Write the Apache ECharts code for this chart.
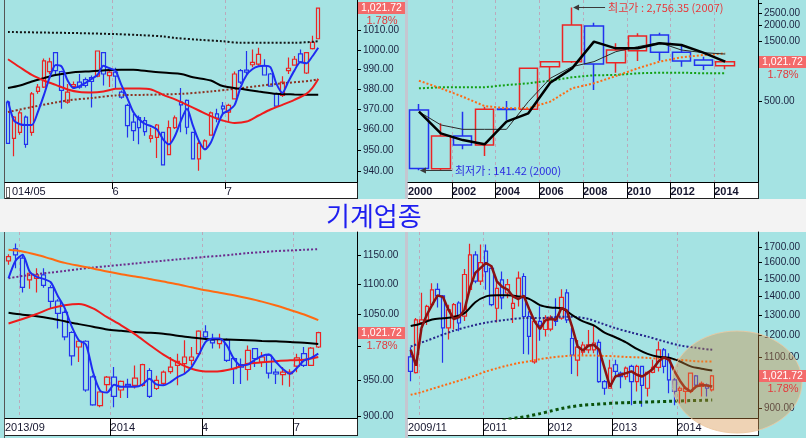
<!DOCTYPE html>
<html>
<head>
<meta charset="utf-8">
<title>기계업종</title>
<script src="https://cdn.jsdelivr.net/npm/echarts@6.0.0/dist/echarts.min.js"></script>
<style>
  html, body { margin:0; padding:0; background:#a5e3e3; }
  #wrap { position:relative; width:806px; height:438px; overflow:hidden; background:#a5e3e3; }
  .deco { position:absolute; box-sizing:border-box; }
  #chart { position:absolute; left:0; top:0; width:806px; height:438px; }
</style>
</head>
<body>
<div id="wrap">
  <div class="deco" style="left:0;top:199px;width:806px;height:33px;background:#f3f3f3;"></div>
  <div class="deco" style="left:405px;top:0;width:3px;height:199px;background:#c5c6d0;"></div>
  <div class="deco" style="left:405px;top:232px;width:3px;height:206px;background:#c5c6d0;"></div>
  <div class="deco" style="left:4px;top:0;width:1px;height:199px;background:#555;"></div>
  <div class="deco" style="left:4px;top:232px;width:1px;height:206px;background:#555;"></div>
  <div class="deco" style="left:5px;top:182px;width:353px;height:17px;background:#fff;border-right:1px solid #222;border-bottom:1px solid #222;"></div>
  <div class="deco" style="left:408px;top:182px;width:351px;height:17px;background:#fff;border-right:1px solid #222;border-bottom:1px solid #222;"></div>
  <div class="deco" style="left:5px;top:418px;width:353px;height:18px;background:#fff;border-right:1px solid #222;border-bottom:1px solid #222;"></div>
  <div class="deco" style="left:408px;top:418px;width:351px;height:18px;background:#fff;border-right:1px solid #222;border-bottom:1px solid #222;"></div>
  <div class="deco" style="left:6px;top:187px;width:4px;height:11px;border:1px solid #666;background:#fff;"></div>
  <div id="chart"></div>
</div>
<script>
// ---------------- common values ----------------
const TITLE = '기계업종';
const LAST_PRICE = 1021.72;
const PRICE_TEXT = '1,021.72';
const CHANGE_TEXT = '1.78%';

// ---------------- panel 1 : daily (2014/05 - 2014/07) ----------------
// [open, close, low, high]
const dailyOHLC = [
  [973.7,953.3,953,974.5],[955.7,966.2,947,966.7],[958.7,968.3,957.5,969.5],[966.2,952.8,951.2,967],
  [958.7,977.8,957,978.7],[979,981.2,977.8,982.8],[981.2,994.5,980.7,995.7],[989,994,987.8,996],
  [998.7,989.5,987,999],[989,979.5,970.3,989.5],[973.7,978.7,972.8,982.8],[981.5,982.5,981,984],
  [983.7,981.2,980.3,987.8],[985,982,981,986],[986,984,971,987],[986.7,999.5,986.2,999.5],
  [998.7,987.8,982,999],[987,988.7,981.2,989.5],[988.7,986.7,980.3,991],[978.7,976.2,975.3,979.5],
  [972,962,956.2,972.8],[963.7,959.5,954.5,967.8],[966,961,952.8,967],[964.5,959,957,966.2],
  [955.7,957,953.7,961],[956.2,962.3,946.2,962.8],[958.7,942.8,942.8,959],[947.8,961,947.8,964.5],
  [961,965.8,960.3,967],[973.7,972.3,958.7,980.7],[974.5,961.2,957.8,975],[958.7,945.7,945.7,959],
  [945.7,953.3,940,954.5],[950.7,954.5,950.3,955.3],[957.3,968.3,957,969],[967.8,965.7,963.7,970.3],
  [971.7,970.3,967.8,973.7],[968.7,972,963.7,972.8],[975.3,987.8,975,989],[989.5,983.7,982.8,990.3],
  [989.8,988.7,987.8,999.5],[992.5,993.7,991.2,1000.3],[992.8,997.8,992,1001.2],[992,987.3,987,995.3],
  [987.8,981.7,981.7,988.3],[977.8,971.7,971.7,978.3],[977,983.7,976.2,986.7],[989.5,990.7,987.8,996.2],
  [992.3,995.3,992,997],[998,994,993.7,1000.3],[988.3,998.7,987.8,999],[1000.7,1004,1000.3,1007.3],
  [1005.8,1021.72,1005.8,1021.72]
];
const dailyMA5 = [974.2,964.5,962.7,962.3,962.3,968.7,977,986.2,992.3,991.5,984.5,980.7,981.7,983.3,985.3,987.3,
  992,990.7,989.5,982.3,975.7,968.7,965,962.8,961.7,960,955.3,952.8,957,964.5,970.3,962,954.5,950.3,953.7,961.2,
  967.8,969.5,972.3,981.2,987.3,990.3,991.7,992,991.2,982.8,978.3,984,989.5,993.7,993.2,996.7,1001.2];
const dailyMA20 = [[0,995.3],[2,991.2],[4,987.3],[6,984.5],[8,982.3],[10,980],[12,978.7],[14,978.5],[16,979],
  [18,980.3],[20,980.5],[22,980.5],[24,980],[26,977.3],[28,975],[30,972.3],[32,969.5],[34,966.7],[36,964.5],
  [38,963.3],[40,964],[42,967],[44,970],[46,972.3],[48,974.8],[50,977.8],[51,980.7],[52,985.3]];
const dailyMA60 = [[0,980.7],[2,982],[4,984],[6,985.7],[8,987.3],[11,988.7],[14,989.2],[17,989.8],[19,990],
  [21,990],[24,989],[27,988.3],[29,987.8],[31,986.2],[34,984.5],[36,981.7],[39,980.3],[42,979],[45,977.8],
  [48,977.5],[52,977.3]];
const dailyMA120 = [[0,1009.3],[6,1009],[12,1008.7],[18,1008.2],[22,1007.7],[26,1007],[28,1006.2],[32,1005.3],
  [36,1004.5],[39,1003.7],[42,1003.7],[48,1003.7],[52,1004.5]];
const dailyMA240 = [[0,968.7],[4,971.2],[10,974.5],[14,975.7],[18,977],[23,977.3],[29,977.8],[34,979],
  [39,980.7],[45,982.8],[51,984.5],[52,985.3]];
const dailyYRange = [934.6, 1025.98];
const dailyYTicks = [940,950,960,970,980,990,1000,1010,1020];
const dailyYLabels = [940,950,960,970,980,990,1000,1010];
const dailyXLabelPos = [0,18,37];
const dailyXLabelText = ['014/05','6','7'];
const dailyXTickPos = [18,37];
const dailyGridPos = [18,37];

// ---------------- panel 2 : yearly (2000 - 2014), log scale ----------------
const yearNames = ['2000','2001','2002','2003','2004','2005','2006','2007','2008','2009','2010','2011','2012','2013','2014'];
const yearOHLC = [
  [424,146,141.42,473],[145,264,142,333],[264,224,207,411],[224,430,183,451],[432,428,354,500],
  [430,907,424,912],[935,1025,711,1030],[1025,2000,1000,2756.35],[1964,982,611,2086],[1006,1267,838,1432],
  [1252,1636,1038,1718],[1666,1215,1044,1740],[1215,1038,935,1414],[1056,958,880,1122],[952,1021.72,891,1056]
];
const yearMA3 = [411,277,245,227,343,399,698,907,1476,1307,1307,1432,1389,1208,1025];
const yearMA5 = [411,323,298,298,298,494,756,935,1025,1229,1347,1449,1267,1208,1178];
const yearMA10 = [724,630,541,456,438,438,494,630,690,789,907,1025,1109,1157,1193];
const yearMA20 = [630,642,642,642,669,690,724,770,800,803,829,838,838,829,829];
const yearYRange = [114, 3157];
const yearYTicks = [500,1000,1500,2000,2500,3000];
const yearYLabels = [500,1500,2000,2500];
const yearXLabelPos = [0,2,4,6,8,10,12,14];
const yearXLabelText = ['2000','2002','2004','2006','2008','2010','2012','2014'];
const yearXTickPos = [2,4,6,8,10,12,14];
const yearGridPos = [2,4,6,8,10,12,14];

// ---------------- panel 3 : weekly (2013/09 - 2014/07), log scale ----------------
const weekOHLC = [
  [1139.5,1147,1132.6,1151],[1160.5,1150,1126.8,1170],[1144.2,1094.5,1086,1149],[1107,1118.2,1092,1123.9],
  [1109.7,1115.4,1086,1126.8],[1115.4,1097.9,1093.9,1126.8],[1093.9,1071.5,1060,1097.9],[1072,1051.9,1028,1075],
  [1053.7,1015.1,1009.9,1057],[1021.9,986.1,972,1024],[999.6,1008.4,977,1009.9],[1008.4,936.3,934,1009.9],
  [955.3,915.3,914,957.6],[914.4,933.5,912,934.5],[943.9,954.8,934.5,956.5],[954.8,927.4,912,969.6],
  [936.3,948.6,925,950],[944.4,942.4,925,952.6],[942.9,953.3,938.5,972],[942.9,973.1,940.8,974.6],
  [964.5,927.4,925,967.7],[938.5,950,936.3,957],[945.9,962.1,943.4,964.5],[963,969.6,959.8,984.5],
  [972,978,943,989.5],[974.6,984.5,959.8,1009.9],[979.4,984.5,972,999.6],[989.5,1024,987.1,1025.5],
  [1023,1015.1,1009.9,1033.3],[1009.9,1005.8,997.2,1020],[1004.8,1012.6,997.2,1020],[1009.9,979.4,977,1012.6],
  [982.1,967.2,945,984.5],[973.1,969.6,945,982.1],[966,994.6,950,1002],[997.2,982.1,969.6,998.2],
  [977,984.5,969.6,992],[987.1,960.7,952.8,989.5],[962.1,959.4,945,967.2],[958.5,962.1,943,969.6],
  [959.8,962.1,940.8,966.3],[971,983.1,962.1,989.5],[989.5,972,969.6,999.6],[972,998,971,999.6],
  [999.6,1021.72,998,1023]
];
const weekMA5 = [1109.7,1139.5,1150,1121.1,1112,1108.6,1103,1080.2,1060,1030.7,1009.9,1003.3,962.1,935.6,932.8,
  943.9,940.8,940.8,940.8,943.9,952.4,944.4,943,947.6,954.8,959.8,969.6,987.1,1007.5,1012.6,1012.6,1002.1,982.1,
  972,973.1,980.4,986.1,988.1,977,966.3,959.8,968.5,979.4,983.1,989.5];
const weekMA20 = [[0,1036],[2,1043],[4,1051],[6,1060],[8,1065],[10,1067],[12,1060],[14,1046],[16,1033],[18,1019],
  [20,1003],[22,988],[24,976],[26,967],[28,963],[30,963.5],[32,967.5],[34,974.6],[36,976.5],[38,978.2],[40,979.6],
  [42,980.4],[44,984.5]];
const weekMA60 = [[0,1053],[2,1050],[4,1047.5],[6,1044],[8,1039.5],[10,1035],[12,1031],[14,1026.5],[16,1024.5],
  [18,1022.5],[20,1021.5],[22,1020],[24,1017],[26,1014],[28,1012],[30,1011.3],[32,1010.8],[34,1009.9],[36,1008.9],
  [38,1008.2],[40,1007.4],[42,1006],[44,1004.3]];
const weekMA120 = [[0,1158.8],[2,1155.9],[4,1150],[6,1143],[8,1136],[10,1131],[12,1126.5],[14,1121.1],[16,1116.5],
  [18,1112.6],[20,1108.6],[22,1104.1],[24,1099.6],[26,1094.5],[28,1089.6],[30,1085.6],[32,1081.3],[34,1076.4],
  [36,1071],[38,1064.6],[40,1057.5],[42,1050.3],[44,1041.3]];
const weekMA240 = [[0,1109.7],[2,1113.6],[4,1116.5],[6,1119.4],[8,1122.2],[10,1125.1],[12,1128],[14,1130.3],
  [16,1132.6],[18,1135],[20,1137.4],[22,1139.7],[24,1142],[26,1144.2],[28,1146.5],[30,1148.2],[32,1150.6],
  [34,1153],[36,1154.7],[38,1156.5],[40,1157.6],[42,1158.8],[44,1160]];
const weekYRange = [897.3, 1190.6];
const weekYTicks = [900,950,1000,1050,1100,1150];
const weekYLabels = [900,950,1050,1100,1150];
const weekXLabelPos = [0,15,28,41];
const weekXLabelText = ['2013/09','2014','4','7'];
const weekXTickPos = [15,28,41];
const weekGridPos = [2,15,28,41];

// ---------------- panel 4 : monthly (2009/11 - 2014/07), log scale ----------------
const monthOHLC = [
  [1102,1040,1000,1145],[1035,1276,1032,1285],[1262,1276,1250,1420],[1276,1346,1250,1355],[1355,1437,1346,1475],
  [1440,1403,1340,1475],[1403,1236,1076,1408],[1236,1328,1180,1355],[1295,1355,1228,1364],[1364,1260,1220,1373],
  [1295,1527,1270,1560],[1440,1650,1420,1725],[1650,1488,1475,1675],[1488,1600,1465,1720],[1675,1545,1437,1720],
  [1565,1355,1346,1585],[1336,1445,1262,1495],[1495,1392,1330,1545],[1419,1467,1390,1500],[1335,1362,1260,1400],
  [1390,1505,1345,1545],[1515,1293,1115,1535],[1293,1195,1112,1320],[1080,1268,1072,1285],[1268,1248,1175,1346],
  [1228,1285,1195,1300],[1230,1288,1220,1300],[1288,1268,1245,1390],[1285,1395,1276,1440],[1420,1276,1260,1440],
  [1185,1110,1030,1236],[1088,1145,1020,1178],[1123,1155,1110,1170],[1133,1156,1118,1226],[1133,1164,1118,1252],
  [1167,999,995,1180],[999,973,948,1005],[973,1054,972,1089],[1068,1040,1019,1089],[1033,1019,973,1040],
  [1019,1054,1006,1061],[1061,999,910,1068],[999,1061,961,1068],[1061,984,904,1064],[973,1036,942,1040],
  [1036,1057,1033,1089],[1057,1133,1040,1171],[1133,1061,1033,1141],[1096,1006,954,1118],[1006,961,910,1013],
  [965,973,916,980],[961,973,916,980],[961,1033,954,1036],[1022,985,973,1026],[980,992,942,999],
  [985,973,942,992],[967,1021.72,961,1026]
];
const monthMA3 = [1133.3,1063.9,1235,1301.8,1355.4,1405.8,1396.4,1328.6,1280,1290,1328.6,1448,1536.7,1567.4,1598,
  1577.6,1486.5,1453.8,1438.5,1400,1385.7,1403.8,1332,1268.3,1230,1273.3,1280,1276.7,1337.5,1325,1240,1148.5,
  1130.3,1151.5,1156,1133.3,1054.2,979.7,1019.4,1026.4,1033.3,1040.3,1026.4,1019.4,1033.3,1051.4,1082,1100,
  1088.9,1040.3,1002.8,973.4,960.8,979.7,986.1,983.5,979.7];
const monthMA12 = [[0,1245],[2,1258],[4,1278],[6,1284],[8,1290],[10,1310],[12,1368],[14,1400],[16,1406],[18,1406],
  [20,1400],[22,1386.8],[24,1352.8],[26,1340],[28,1336],[30,1300],[32,1268],[34,1248.4],[36,1212.9],[38,1191],
  [40,1167],[42,1137],[44,1115],[46,1102],[48,1098.6],[50,1082],[52,1061],[54,1051.4],[56,1044.4]];
const monthMA24 = [[0,1148],[3,1175],[5,1194],[8,1222],[11,1244],[14,1262],[18,1277],[21,1285],[25,1286],[28,1292],
  [31,1290],[33,1280],[35,1262],[38,1235],[41,1213],[44,1194],[47,1172],[50,1153],[53,1142],[56,1133]];
const monthMA36 = [[0,948],[2,958.2],[4,970.9],[6,983.5],[8,996.2],[10,1009.7],[12,1024],[14,1040],[16,1053],
  [18,1065],[20,1075],[22,1083],[24,1092],[26,1099],[28,1104],[30,1107.5],[32,1107.5],[34,1107.5],[36,1106],
  [38,1104.5],[40,1101.5],[42,1100],[44,1097.2],[46,1094.4],[48,1091.7],[50,1088.9],[52,1084.7],[54,1081.9],[56,1081.9]];
const monthMA60 = [[16,852],[18,860],[20,866],[22,872],[24,880],[26,889],[28,898],[30,905],[32,910],[34,912.6],
  [36,915.2],[38,917.7],[40,919],[42,920.3],[44,921.5],[46,922.8],[48,924],[50,925.3],[52,926.6],[54,927.5],[56,928.5]];
const monthYRange = [864.9, 1807];
const monthYTicks = [900,1000,1100,1200,1300,1400,1500,1600,1700];
const monthYLabels = [900,1100,1200,1300,1400,1500,1600,1700];
const monthXLabelPos = [0,14,26,38,50];
const monthXLabelText = ['2009/11','2011','2012','2013','2014'];
const monthXTickPos = [14,26,38,50];
const monthGridPos = [2,14,26,38,50];

// ---------------- build ----------------
const L = v => Math.log10(v);
const norm = d => (typeof d[0] === 'number') ? d.map((v, i) => [i, v]) : d;

const panels = [
  { ohlc: dailyOHLC, slots: 59, yRange: dailyYRange, yTicks: dailyYTicks, yLabels: dailyYLabels,
    xLabelPos: dailyXLabelPos, xLabelText: dailyXLabelText, xTickPos: dailyXTickPos, gridPos: dailyGridPos,
    lines: [
      { data: dailyMA240, color: '#8c3322', width: 2, dash: [2, 2], smooth: 0.3 },
      { data: dailyMA120, color: '#141414', width: 2, dash: [2, 2], smooth: 0.3 },
      { data: dailyMA60, color: '#000000', width: 2, smooth: 0.3 },
      { data: dailyMA20, color: '#ee1c1c', width: 2, smooth: 0.3 },
      { data: dailyMA5, color: '#1e2cf2', width: 2, smooth: 0.25 }
    ] },
  { ohlc: yearOHLC, slots: 16, yRange: yearYRange, yTicks: yearYTicks, yLabels: yearYLabels,
    xLabelPos: yearXLabelPos, xLabelText: yearXLabelText, xTickPos: yearXTickPos, gridPos: yearGridPos,
    lines: [
      { data: yearMA20, color: '#14a014', width: 2, dash: [2, 2] },
      { data: yearMA10, color: '#ff6a12', width: 2, dash: [2, 2] },
      { data: yearMA5, color: '#2a2a2a', width: 1 },
      { data: yearMA3, color: '#000000', width: 2.5 }
    ] },
  { ohlc: weekOHLC, slots: 50, yRange: weekYRange, yTicks: weekYTicks, yLabels: weekYLabels,
    xLabelPos: weekXLabelPos, xLabelText: weekXLabelText, xTickPos: weekXTickPos, gridPos: weekGridPos,
    lines: [
      { data: weekMA240, color: '#6c2b8c', width: 2, dash: [2, 2], smooth: 0.3 },
      { data: weekMA120, color: '#ff6a12', width: 2, smooth: 0.3 },
      { data: weekMA60, color: '#000000', width: 2, smooth: 0.3 },
      { data: weekMA20, color: '#ee1c1c', width: 2, smooth: 0.3 },
      { data: weekMA5, color: '#1e2cf2', width: 2, smooth: 0.25 }
    ] },
  { ohlc: monthOHLC, slots: 65, yRange: monthYRange, yTicks: monthYTicks, yLabels: monthYLabels,
    xLabelPos: monthXLabelPos, xLabelText: monthXLabelText, xTickPos: monthXTickPos, gridPos: monthGridPos,
    lines: [
      { data: monthMA60, color: '#0b520b', width: 3, dash: [3, 3], smooth: 0.3 },
      { data: monthMA36, color: '#ff6a12', width: 2, dash: [2, 2], smooth: 0.3 },
      { data: monthMA24, color: '#26268c', width: 2, dash: [2, 2], smooth: 0.3 },
      { data: monthMA12, color: '#000000', width: 2, smooth: 0.3 },
      { data: monthMA3, color: '#8a1212', width: 2.5 }
    ] }
];

const layout = [
  { left: 5,   top: 0,   width: 352, height: 182, barWidth: 4,  border: 1.2, tickLen: 7,  bold: false, labelPad: 7 },
  { left: 408, top: 0,   width: 350, height: 182, barWidth: 19, border: 1.5, tickLen: 16, bold: true,  labelPad: 0 },
  { left: 5,   top: 232, width: 352, height: 186, barWidth: 5,  border: 1.2, tickLen: 18, bold: false, labelPad: 0 },
  { left: 408, top: 232, width: 350, height: 186, barWidth: 4,  border: 1.2, tickLen: 18, bold: false, labelPad: 0 }
];

const FONT = 'Liberation Sans';
const grid = [], xAxis = [], yAxis = [], series = [];

panels.forEach((p, i) => {
  const g = layout[i];
  grid.push({ left: g.left, top: g.top, width: g.width, height: g.height, show: false,
    containLabel: false, outerBoundsMode: 'none' });
  const cats = Array.from({ length: p.slots }, (_, k) => String(k));
  xAxis.push({ type: 'category', gridIndex: i, data: cats, position: 'top', boundaryGap: true,
    axisLine: { show: false }, axisTick: { show: false }, axisLabel: { show: false },
    splitLine: { show: true, interval: (idx) => p.gridPos.indexOf(idx) >= 0,
      lineStyle: { color: '#bba9bb', type: [3, 3], width: 1 } } });
  yAxis.push({ type: 'value', gridIndex: i, position: 'right', min: L(p.yRange[0]), max: L(p.yRange[1]),
    axisLine: { show: true, onZero: false, lineStyle: { color: '#000', width: 1 } },
    axisTick: { show: true, inside: false, length: 4, customValues: p.yTicks.map(L), lineStyle: { color: '#000' } },
    axisLabel: { show: true, customValues: p.yLabels.map(L), margin: 6, color: '#1b2240', fontSize: 10,
      fontFamily: FONT, formatter: v => Math.pow(10, v).toFixed(2) },
    splitLine: { show: false } });
});
panels.forEach((p, i) => {
  const g = layout[i];
  xAxis.push({ type: 'value', gridIndex: i, position: 'bottom', min: 0, max: p.slots,
    axisLine: { show: true, onZero: false, lineStyle: { color: '#000', width: 1 } },
    axisTick: { show: true, inside: false, length: g.tickLen, customValues: p.xTickPos, lineStyle: { color: '#000' } },
    axisLabel: { show: true, customValues: p.xLabelPos, align: 'left', margin: 4, color: '#15152e', fontSize: 11,
      fontWeight: g.bold ? 'bold' : 'normal', fontFamily: FONT, showMinLabel: true, showMaxLabel: true,
      formatter: v => {
        const k = p.xLabelPos.indexOf(v);
        if (k < 0) return '';
        return (k === 0 && g.labelPad) ? '{pad|' + p.xLabelText[k] + '}' : p.xLabelText[k];
      },
      rich: { pad: { padding: [0, 0, 0, g.labelPad], fontSize: 11, color: '#15152e', fontFamily: FONT } } },
    splitLine: { show: false } });
});

panels.forEach((p, i) => {
  const g = layout[i];
  series.push({ type: 'candlestick', xAxisIndex: i, yAxisIndex: i, barWidth: g.barWidth, z: 2, silent: true,
    data: p.ohlc.map(d => d.map(L)),
    itemStyle: { color: 'rgba(0,0,0,0)', color0: 'rgba(0,0,0,0)', borderColor: '#ec2424',
      borderColor0: '#2232ee', borderWidth: g.border } });
  p.lines.forEach((ln, k) => {
    series.push({ type: 'line', xAxisIndex: i, yAxisIndex: i, z: 3 + k, silent: true, clip: true,
      symbol: 'none', showSymbol: false, smooth: ln.smooth || false,
      data: norm(ln.data).map(q => [q[0], L(q[1])]),
      lineStyle: { color: ln.color, width: ln.width, type: ln.dash || 'solid', cap: 'butt' } });
  });
});

const chart = echarts.init(document.getElementById('chart'), null, { renderer: 'canvas', width: 806, height: 438 });
chart.setOption({
  animation: false,
  backgroundColor: 'transparent',
  textStyle: { fontFamily: FONT },
  title: { text: TITLE, left: 326, top: 203, padding: 0,
    textStyle: { color: '#1d1df0', fontSize: 26, fontWeight: 'normal', fontFamily: 'Noto Sans CJK KR' } },
  grid, xAxis, yAxis, series
});

// ---------------- overlays positioned through the chart's own scales ----------------
const T = (s, extra) => Object.assign({ text: s, align: 'center', verticalAlign: 'middle',
  textAlign: 'center', textVerticalAlign: 'middle' }, extra);
const gfx = [];

// highlight circle on the monthly panel (drawn annotation)
gfx.push({ type: 'ellipse', shape: { cx: 737, cy: 382, rx: 65, ry: 51 }, z: 150, silent: true,
  style: { fill: 'rgba(214,140,60,0.38)', stroke: 'rgba(236,200,160,0.85)', lineWidth: 1 } });

panels.forEach((p, i) => {
  const g = layout[i];
  const ax = g.left + g.width;
  const y = Math.round(chart.convertToPixel({ yAxisIndex: i }, L(LAST_PRICE)));
  gfx.push({ type: 'rect', shape: { x: ax + 1, y: y - 6, width: 47, height: 12 }, z: 200, silent: true,
    style: { fill: '#f36a6a' } });
  gfx.push({ type: 'text', x: ax + 24.5, y: y + 0.5, z: 201, silent: true,
    style: T(PRICE_TEXT, { fill: '#ffffff', font: '10.5px "Liberation Sans"' }) });
  gfx.push({ type: 'text', x: ax + 25, y: y + 13, z: 201, silent: true,
    style: T(CHANGE_TEXT, { fill: '#e4393b', font: '11px "Liberation Sans"' }) });
});

// yearly high / low annotations
let hi = 0, lo = 0;
yearOHLC.forEach((d, k) => { if (d[3] > yearOHLC[hi][3]) hi = k; if (d[2] < yearOHLC[lo][2]) lo = k; });
const fmt = v => v.toLocaleString('en-US', { minimumFractionDigits: 2, maximumFractionDigits: 2 });
function note(idx, val, label, color) {
  const x = chart.convertToPixel({ xAxisIndex: 1 }, idx);
  const y = Math.round(chart.convertToPixel({ yAxisIndex: 1 }, L(val))) + 0.5;
  gfx.push({ type: 'line', shape: { x1: x + 2, y1: y, x2: x + 33, y2: y }, z: 190, silent: true,
    style: { stroke: '#3a3a3a', lineWidth: 1 } });
  gfx.push({ type: 'polygon', shape: { points: [[x + 1, y], [x + 7, y - 3], [x + 7, y + 3]] }, z: 190, silent: true,
    style: { fill: '#3a3a3a' } });
  gfx.push({ type: 'text', x: x + 36, y: y, z: 191, silent: true,
    style: { text: label + ' : ' + fmt(val) + ' (' + yearNames[idx] + ')', fill: color,
      font: '11px "Noto Sans CJK KR"', align: 'left', verticalAlign: 'middle', textAlign: 'left', textVerticalAlign: 'middle' } });
}
note(hi, yearOHLC[hi][3], '최고가', '#e8383a');
note(lo, yearOHLC[lo][2], '최저가', '#2a2ae0');

chart.setOption({ graphic: { elements: gfx } });
</script>
</body>
</html>
